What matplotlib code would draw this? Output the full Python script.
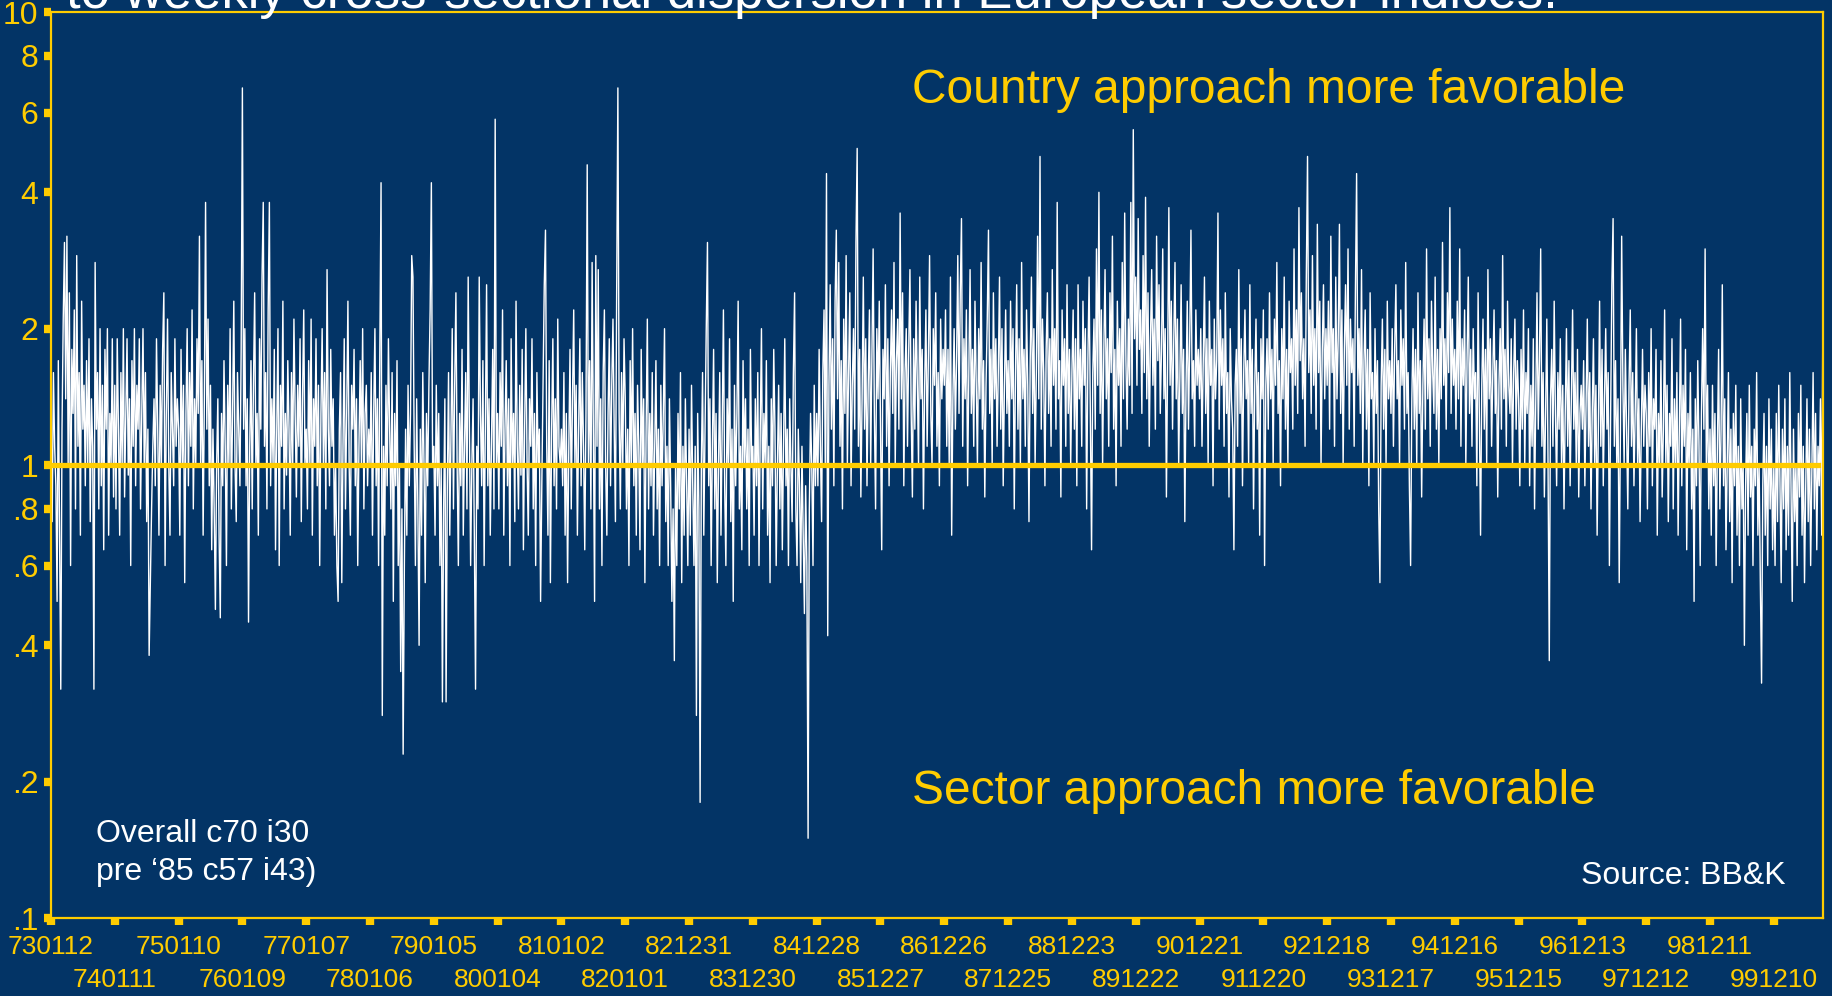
#!/usr/bin/env python3

import datetime
import matplotlib
matplotlib.use("Agg")
import matplotlib.pyplot as plt

# weekly country/sector dispersion ratio, one list per 52-week block starting 730112
w73 = [1.3, 0.75, 1.6, 1.1, 0.9, 0.5, 1.7, 0.7, 0.32, 1.2, 2.1, 3.1, 1.4, 3.2, 1.0, 2.4, 0.6, 1.8, 1.3, 2.2, 0.8, 2.9, 1.1, 1.6, 0.7, 2.3, 1.2, 1.5, 0.9, 1.7, 1.0, 1.9, 0.75, 1.4, 1.1, 0.32, 2.8, 1.2, 1.6, 0.8, 2.0, 0.9, 1.5, 0.65, 1.8, 1.2, 2.0, 0.7, 1.3, 1.0, 1.9, 0.85]
w74 = [1.5, 0.8, 1.9, 1.2, 0.7, 1.6, 1.0, 2.0, 0.85, 1.3, 1.9, 0.95, 1.4, 0.6, 1.7, 1.1, 2.0, 0.9, 1.5, 1.2, 1.9, 0.8, 1.3, 2.0, 1.0, 1.6, 0.75, 1.2, 0.38, 0.55, 0.8, 1.1, 1.4, 0.9, 1.9, 1.2, 0.7, 1.5, 1.0, 1.8, 2.4, 0.6, 1.3, 2.1, 1.0, 0.7, 1.6, 1.2, 0.9, 1.9, 1.1, 1.4]
w75 = [1.2, 0.7, 1.8, 1.0, 1.5, 0.55, 1.3, 2.0, 0.9, 1.6, 1.1, 2.2, 0.8, 1.4, 1.0, 1.9, 1.3, 3.2, 1.0, 1.7, 0.7, 1.4, 3.8, 1.2, 2.1, 0.9, 1.5, 0.65, 1.2, 0.8, 0.48, 1.0, 1.4, 0.7, 0.46, 1.3, 0.9, 1.7, 1.1, 0.6, 1.5, 1.0, 2.0, 0.8, 1.3, 2.3, 1.0, 0.75, 1.6, 1.2, 0.9, 1.8]
w76 = [6.8, 1.2, 2.0, 0.9, 1.4, 0.45, 1.1, 1.7, 0.8, 1.5, 2.4, 1.0, 1.3, 0.7, 1.9, 1.2, 2.6, 3.8, 1.1, 1.6, 0.8, 2.2, 3.8, 0.9, 1.4, 1.0, 1.8, 0.65, 1.2, 2.0, 0.6, 1.5, 1.1, 2.3, 0.8, 1.3, 0.95, 1.7, 1.2, 0.7, 1.6, 1.0, 2.1, 1.3, 0.85, 1.5, 1.1, 1.9, 0.75, 1.4, 2.2, 1.0]
w77 = [1.2, 0.8, 1.7, 1.0, 2.1, 0.7, 1.4, 1.1, 1.9, 0.9, 1.5, 0.6, 1.3, 2.0, 1.0, 1.6, 0.8, 2.7, 1.2, 0.9, 1.8, 1.1, 1.4, 0.7, 1.0, 0.6, 0.5, 1.2, 1.6, 0.55, 1.1, 1.9, 0.8, 1.3, 2.3, 1.0, 0.7, 1.5, 1.2, 1.8, 0.9, 1.4, 0.6, 1.1, 1.7, 1.0, 2.0, 0.8, 1.3, 1.5, 0.9, 1.2]
w78 = [1.0, 1.6, 0.7, 1.3, 2.0, 0.9, 1.4, 0.6, 1.8, 4.2, 0.28, 1.1, 0.7, 1.5, 0.9, 1.9, 1.2, 0.8, 1.6, 0.5, 1.3, 0.9, 1.7, 0.6, 1.0, 0.35, 0.8, 0.23, 0.6, 1.2, 0.7, 1.5, 0.9, 1.3, 2.9, 2.6, 1.1, 0.6, 1.4, 0.8, 0.4, 1.2, 0.7, 1.6, 1.0, 0.55, 1.3, 0.9, 1.5, 2.2, 4.2, 1.0]
w79 = [1.1, 0.7, 1.5, 0.9, 1.3, 0.6, 1.0, 0.3, 0.8, 1.4, 0.3, 0.9, 1.6, 0.7, 1.2, 2.0, 0.8, 1.5, 2.4, 1.0, 0.6, 1.3, 0.9, 1.8, 0.7, 1.1, 1.6, 0.8, 2.6, 1.2, 0.6, 1.0, 1.4, 0.7, 0.32, 1.1, 0.8, 2.6, 1.3, 0.9, 1.7, 0.6, 1.2, 2.5, 0.9, 1.4, 0.7, 1.1, 1.8, 0.8, 5.8, 1.0]
w80 = [1.3, 0.8, 1.6, 1.1, 2.2, 0.7, 1.2, 1.7, 0.9, 1.4, 0.6, 1.9, 1.0, 1.3, 0.75, 2.3, 1.1, 0.8, 1.5, 0.95, 1.8, 0.65, 1.2, 2.0, 1.0, 0.7, 1.4, 1.1, 1.9, 0.8, 1.3, 0.6, 1.6, 1.0, 1.2, 0.5, 0.9, 1.5, 2.5, 3.3, 1.1, 0.7, 1.7, 0.55, 1.2, 1.9, 0.9, 1.4, 0.8, 2.1, 1.1, 1.0]
w81 = [1.2, 0.9, 1.6, 0.7, 1.3, 0.55, 1.1, 1.8, 0.8, 1.4, 2.2, 1.0, 1.5, 0.7, 1.2, 1.9, 0.9, 1.6, 1.1, 0.65, 1.3, 4.6, 1.0, 1.7, 0.8, 2.8, 1.2, 0.5, 2.9, 1.1, 2.7, 0.8, 1.4, 0.6, 1.6, 2.2, 1.0, 0.7, 1.3, 1.9, 0.9, 1.5, 2.1, 1.2, 0.75, 2.4, 6.8, 1.3, 0.8, 1.6, 1.0, 1.9]
w82 = [1.4, 0.8, 1.2, 0.6, 1.7, 1.0, 2.0, 0.9, 1.3, 0.7, 1.5, 1.1, 0.65, 1.8, 1.0, 1.4, 0.55, 1.2, 2.1, 0.8, 1.3, 0.9, 1.6, 0.7, 1.1, 1.7, 0.8, 1.2, 0.6, 1.5, 0.9, 1.3, 2.0, 0.75, 1.1, 0.6, 1.4, 0.9, 0.5, 0.8, 0.37, 1.0, 0.6, 1.3, 0.8, 1.6, 0.55, 1.1, 0.7, 1.4, 0.9, 0.6]
w83 = [1.2, 0.7, 1.5, 0.9, 0.6, 1.1, 0.28, 1.3, 0.8, 0.18, 1.0, 1.6, 0.7, 1.2, 2.0, 3.1, 0.9, 1.4, 0.6, 1.1, 1.8, 0.8, 1.3, 0.55, 1.0, 1.6, 0.7, 1.2, 2.2, 0.9, 0.6, 1.4, 1.0, 1.9, 0.75, 1.2, 0.5, 1.5, 0.9, 1.3, 2.3, 0.8, 1.1, 0.65, 1.7, 1.0, 1.4, 0.8, 1.2, 0.6, 1.8, 1.0]
w84 = [1.1, 0.7, 1.4, 0.9, 1.6, 0.6, 1.2, 2.0, 0.8, 1.3, 1.0, 1.7, 0.7, 1.1, 0.55, 1.4, 0.9, 1.8, 1.2, 0.6, 1.0, 1.5, 0.8, 1.3, 0.65, 1.1, 1.9, 0.9, 1.2, 0.6, 1.4, 1.0, 0.75, 1.6, 2.4, 0.8, 0.6, 1.2, 0.9, 0.55, 1.1, 0.7, 0.47, 0.9, 0.6, 0.15, 0.8, 1.3, 1.0, 0.6, 1.5, 0.9]
w85 = [1.3, 0.9, 1.8, 1.1, 0.75, 1.6, 2.2, 1.0, 4.4, 0.42, 1.5, 2.5, 1.2, 1.9, 0.9, 2.3, 3.3, 1.4, 2.8, 1.1, 1.7, 0.8, 2.1, 1.3, 2.9, 1.0, 1.6, 2.4, 0.9, 1.5, 2.0, 1.2, 3.1, 5.0, 1.1, 1.8, 0.85, 1.4, 2.6, 1.2, 1.9, 0.9, 1.5, 2.2, 1.0, 1.7, 3.0, 1.3, 0.8, 2.0, 1.4, 2.3]
w86 = [1.2, 0.65, 1.8, 1.4, 2.5, 1.1, 1.9, 0.9, 1.6, 2.2, 1.3, 2.8, 1.0, 1.7, 2.1, 1.2, 3.6, 1.4, 2.4, 0.9, 1.6, 2.0, 1.1, 1.8, 2.7, 1.3, 0.85, 1.9, 1.2, 2.3, 1.5, 1.0, 2.6, 1.4, 1.8, 0.8, 1.5, 2.2, 1.1, 1.7, 2.9, 1.3, 1.0, 2.0, 1.5, 2.4, 1.1, 1.6, 0.9, 2.1, 1.4, 1.8]
w87 = [1.5, 2.2, 1.1, 1.8, 1.0, 2.6, 0.7, 1.4, 2.0, 1.2, 1.7, 2.9, 1.3, 2.4, 3.5, 1.1, 1.9, 1.4, 2.2, 0.9, 1.6, 2.7, 1.3, 1.8, 1.1, 2.3, 1.5, 1.0, 2.0, 1.4, 2.8, 1.2, 1.7, 0.85, 1.5, 2.1, 3.3, 1.3, 1.8, 1.0, 2.4, 1.4, 1.9, 1.1, 1.6, 2.6, 1.2, 2.0, 0.9, 1.5, 2.2, 1.3]
w88 = [1.7, 1.1, 2.3, 1.4, 2.0, 0.8, 1.6, 2.5, 1.2, 1.9, 1.0, 2.8, 1.4, 1.8, 1.1, 2.2, 1.5, 0.75, 1.7, 2.6, 1.3, 2.0, 1.0, 1.6, 3.2, 1.4, 4.8, 1.2, 2.1, 1.6, 0.9, 1.8, 2.4, 1.3, 1.9, 1.1, 2.7, 1.5, 2.0, 1.2, 3.8, 1.4, 1.7, 0.85, 2.2, 1.5, 1.9, 1.1, 2.5, 1.3, 1.8, 1.0]
w89 = [1.6, 2.2, 1.2, 1.9, 0.9, 2.5, 1.4, 1.8, 1.1, 2.3, 1.5, 2.0, 0.8, 1.7, 2.6, 1.3, 0.65, 1.6, 2.1, 1.2, 3.0, 1.5, 4.0, 1.3, 2.2, 1.0, 1.8, 2.7, 1.4, 1.9, 1.1, 2.4, 1.6, 3.2, 1.2, 1.8, 0.9, 2.3, 1.5, 2.0, 1.1, 2.8, 1.4, 3.6, 1.7, 1.2, 2.1, 1.5, 3.8, 1.3, 5.5, 1.9]
w90 = [2.6, 1.5, 3.5, 1.8, 2.2, 1.3, 2.9, 1.6, 3.9, 1.4, 2.4, 1.1, 1.9, 2.7, 1.5, 2.1, 1.2, 3.2, 1.7, 2.5, 1.3, 1.8, 3.0, 1.4, 2.0, 0.85, 1.7, 3.7, 1.5, 2.3, 1.2, 1.9, 2.8, 1.4, 2.1, 1.0, 1.6, 2.5, 1.3, 1.8, 0.75, 1.5, 2.3, 1.2, 1.9, 3.3, 1.4, 1.7, 1.1, 2.2, 1.5, 1.8]
w91 = [1.4, 2.0, 1.1, 1.7, 2.6, 1.3, 1.9, 1.0, 2.3, 1.5, 1.8, 0.9, 2.1, 1.4, 1.7, 3.6, 1.2, 2.2, 1.5, 1.9, 1.1, 2.4, 1.3, 1.6, 0.85, 2.0, 1.4, 1.2, 0.65, 1.5, 1.8, 1.1, 2.7, 1.3, 1.9, 0.9, 1.6, 2.2, 1.4, 1.7, 1.0, 2.5, 1.3, 1.8, 0.8, 1.5, 2.1, 1.2, 1.6, 0.7, 1.9, 1.4]
w92 = [2.2, 0.6, 1.5, 1.9, 1.2, 2.4, 1.4, 1.8, 1.0, 2.1, 1.5, 2.8, 1.3, 1.7, 0.9, 2.0, 1.4, 2.6, 1.2, 1.8, 1.0, 2.3, 1.6, 1.9, 1.2, 3.0, 1.5, 2.2, 1.3, 3.7, 1.7, 2.4, 1.4, 1.9, 1.1, 2.6, 4.8, 1.6, 2.2, 1.3, 2.9, 1.5, 2.0, 1.2, 3.4, 1.6, 2.3, 1.0, 1.8, 2.5, 1.4, 2.0]
w93 = [1.5, 2.3, 1.2, 3.2, 1.6, 2.0, 1.1, 2.6, 1.4, 1.9, 3.4, 1.3, 2.2, 1.0, 1.8, 2.5, 1.5, 3.0, 1.2, 2.1, 1.6, 1.9, 1.1, 2.4, 4.4, 1.5, 2.0, 1.3, 2.7, 1.0, 1.7, 2.2, 1.2, 1.8, 0.9, 2.4, 1.4, 1.6, 1.0, 2.0, 1.3, 1.7, 0.8, 0.55, 1.5, 2.1, 1.2, 1.8, 1.0, 2.3, 1.4, 1.7]
w94 = [1.3, 2.0, 1.1, 1.8, 2.5, 1.4, 1.7, 1.0, 2.2, 1.5, 1.9, 1.2, 2.8, 1.3, 1.6, 0.9, 0.6, 1.4, 2.0, 1.2, 1.8, 1.0, 2.4, 1.3, 1.7, 0.85, 1.5, 2.1, 1.2, 3.0, 1.4, 1.9, 1.1, 2.3, 1.6, 1.3, 2.6, 1.2, 1.8, 1.0, 2.0, 1.4, 3.1, 1.5, 1.9, 1.2, 2.4, 1.6, 3.7, 1.3, 2.1, 1.5]
w95 = [1.8, 1.2, 2.3, 1.4, 3.0, 1.1, 1.9, 1.5, 2.2, 1.0, 1.7, 2.6, 1.3, 1.8, 1.1, 2.0, 1.4, 1.6, 0.9, 2.4, 1.3, 0.7, 1.5, 2.1, 1.2, 1.8, 1.0, 2.7, 1.4, 1.9, 1.1, 1.6, 2.2, 1.3, 1.7, 0.85, 1.5, 2.0, 1.2, 2.9, 1.4, 1.8, 1.1, 2.3, 1.5, 1.3, 1.9, 1.0, 1.6, 2.1, 1.2, 1.7]
w96 = [1.4, 0.9, 1.8, 1.2, 2.2, 1.0, 1.6, 1.3, 2.0, 0.9, 1.5, 1.1, 1.9, 0.8, 1.4, 2.4, 1.2, 1.7, 3.0, 1.1, 1.6, 0.85, 1.3, 2.1, 1.0, 0.37, 1.4, 1.8, 1.1, 2.3, 1.3, 0.9, 1.6, 1.2, 1.9, 1.0, 1.5, 0.8, 1.3, 2.0, 1.1, 1.7, 0.9, 1.4, 2.2, 1.2, 1.6, 1.0, 1.8, 0.85, 1.3, 1.5]
w97 = [1.2, 1.7, 0.9, 1.4, 2.1, 1.1, 1.6, 0.8, 1.3, 1.9, 1.0, 1.5, 0.7, 1.2, 2.3, 1.1, 1.8, 0.9, 1.4, 2.0, 1.2, 1.6, 0.6, 1.3, 2.5, 3.5, 1.1, 1.7, 1.0, 1.4, 0.55, 1.2, 3.2, 1.5, 1.0, 1.8, 1.2, 0.8, 1.5, 2.2, 1.1, 1.6, 0.9, 1.3, 2.0, 1.0, 1.4, 0.75, 1.2, 1.8, 1.1, 1.5]
w98 = [1.3, 0.8, 1.6, 1.1, 2.0, 0.9, 1.4, 1.2, 1.8, 0.7, 1.3, 1.0, 1.7, 0.85, 1.2, 2.2, 1.0, 1.5, 0.75, 1.3, 1.1, 1.9, 0.8, 1.4, 1.0, 1.6, 0.7, 1.2, 2.1, 0.9, 1.5, 1.1, 1.8, 0.65, 1.3, 1.0, 1.6, 0.8, 1.2, 0.5, 1.4, 0.9, 1.7, 1.1, 0.6, 1.3, 2.0, 1.2, 3.0, 1.0, 1.5, 0.8]
w99 = [1.2, 0.7, 1.5, 0.9, 1.3, 0.6, 1.1, 1.8, 0.8, 1.2, 2.5, 0.9, 1.4, 0.65, 1.0, 1.6, 0.75, 1.2, 0.55, 1.3, 0.9, 1.5, 0.7, 1.1, 0.6, 1.4, 0.8, 1.0, 0.4, 0.9, 1.3, 0.7, 1.5, 0.85, 1.1, 0.6, 1.2, 0.9, 1.6, 0.7, 1.0, 0.55, 0.33, 0.9, 1.3, 0.7, 1.1, 0.6, 1.4, 0.8, 1.2, 0.65]
w00 = [1.0, 0.6, 1.3, 0.75, 1.5, 0.9, 0.55, 1.2, 0.8, 1.4, 0.65, 1.1, 0.7, 1.6, 0.9, 0.5, 1.2, 0.75, 1.0, 0.6, 1.3, 0.85, 1.5, 0.7, 1.1, 0.55, 0.9, 1.4, 0.75, 1.2, 0.6, 1.0, 1.6, 0.8, 1.3, 0.65, 1.1, 0.9, 1.4, 0.7, 2.2]

ytick_vals = [0.1, 0.2, 0.4, 0.6, 0.8, 1, 2, 4, 6, 8, 10]
ytick_labels = [".1", ".2", ".4", ".6", ".8", "1", "2", "4", "6", "8", "10"]

start = datetime.date(1973, 1, 12)

BG = "#033466"
YEL = "#FFCC00"

ratio = (w73 + w74 + w75 + w76 + w77 + w78 + w79 + w80 + w81 + w82 + w83 + w84 + w85 + w86
         + w87 + w88 + w89 + w90 + w91 + w92 + w93 + w94 + w95 + w96 + w97 + w98 + w99 + w00)
weeks = list(range(len(ratio)))

plt.rcParams["font.family"] = ["Liberation Sans", "DejaVu Sans"]

fig = plt.figure(figsize=(18.33, 9.96), dpi=100, facecolor=BG)
ax = fig.add_axes([0.0278, 0.0783, 0.9667, 0.9096], facecolor=BG)

ax.plot(weeks, ratio, color="white", linewidth=1.0, zorder=2)
ax.axhline(1, xmin=0, xmax=0.997, color=YEL, linewidth=3.8, zorder=3)

ax.set_yscale("log")
ax.set_ylim(0.1, 10)
ax.set_xlim(0, len(ratio) - 1)

ax.set_yticks(ytick_vals, ytick_labels)
ax.yaxis.set_minor_locator(matplotlib.ticker.NullLocator())

# yearly ticks every 52 weeks, labels staggered over two rows
tick_pos = list(range(0, len(ratio), 52))
tick_lab = [(start + datetime.timedelta(days=7 * p)).strftime("%y%m%d") for p in tick_pos]
ax.set_xticks(tick_pos[0::2], tick_lab[0::2])
ax.set_xticks(tick_pos[1::2], tick_lab[1::2], minor=True)

for spine in ax.spines.values():
    spine.set_color(YEL)
    spine.set_linewidth(1.6)

ax.tick_params(axis="both", which="both", colors=YEL, direction="out",
               length=5, width=6, labelsize=23)
ax.tick_params(axis="y", pad=4)
ax.tick_params(axis="x", which="both", labelsize=19)
ax.tick_params(axis="x", which="major", pad=7)
ax.tick_params(axis="x", which="minor", pad=31)

fig.text(0.036, 0.992, "to weekly cross-sectional dispersion in European sector indices.",
         color="white", fontsize=38, va="baseline", ha="left", zorder=10)

fig.text(0.4975, 0.9096, "Country approach more favorable", color=YEL, fontsize=34.5,
         va="center", ha="left")
fig.text(0.4975, 0.2055, "Sector approach more favorable", color=YEL, fontsize=34.5,
         va="center", ha="left")

fig.text(0.0524, 0.1630, "Overall c70 i30", color="white", fontsize=23, va="center", ha="left")
fig.text(0.0524, 0.1240, "pre \u201885 c57 i43)", color="white", fontsize=23, va="center", ha="left")
fig.text(0.9744, 0.1205, "Source: BB&K", color="white", fontsize=23, va="center", ha="right")

fig.savefig("out.png", dpi=100, facecolor=BG)
